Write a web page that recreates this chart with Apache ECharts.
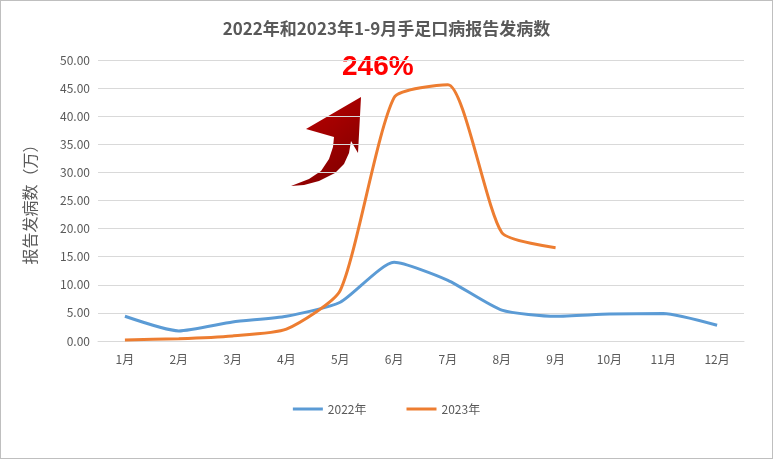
<!DOCTYPE html><html><head><meta charset="utf-8"><script src="https://cdn.jsdelivr.net/npm/echarts@6/dist/echarts.min.js"></script>
<style>html,body{margin:0;padding:0;background:#fff}#c{width:773px;height:459px;box-sizing:border-box;border:1px solid #bfbfbf}</style></head><body><div id="c"></div><script>
const categories=['1月','2月','3月','4月','5月','6月','7月','8月','9月','10月','11月','12月'];
const y2022=[4.4,1.8,3.4,4.4,6.9,14.0,10.8,5.5,4.4,4.8,4.9,2.8];
const y2023=[0.2,0.4,0.9,2.1,9.0,43.3,45.6,19.3,16.6];
const chart=echarts.init(document.getElementById('c'));
const f='"Microsoft YaHei","Noto Sans CJK SC",sans-serif';
chart.setOption({
 animation:false,
 title:{text:'2022年和2023年1-9月手足口病报告发病数',left:'center',top:14,textStyle:{fontSize:17,fontWeight:'bold',color:'#595959',fontFamily:f}},
 legend:{bottom:38,itemWidth:30,itemHeight:3,icon:'rect',itemGap:40,textStyle:{color:'#595959',fontSize:12,fontFamily:f},data:['2022年','2023年']},
 grid:{left:97,right:28,top:59,bottom:117},
 xAxis:{type:'category',data:categories,boundaryGap:true,axisLine:{lineStyle:{color:'#d9d9d9'}},axisTick:{show:false},axisLabel:{color:'#595959',fontSize:12,margin:12,fontFamily:f}},
 yAxis:{type:'value',min:0,max:50,interval:5,name:'报告发病数（万）',nameLocation:'middle',nameGap:60,nameTextStyle:{color:'#595959',fontSize:16,fontFamily:f},
  axisLabel:{formatter:v=>v.toFixed(2),color:'#595959',fontSize:12,fontFamily:f},splitLine:{lineStyle:{color:'#d9d9d9'}},axisLine:{show:false}},
 series:[
  {name:'2022年',type:'line',data:y2022,showSymbol:false,smooth:0.2,lineStyle:{color:'#5b9bd5',width:3},itemStyle:{color:'#5b9bd5'}},
  {name:'2023年',type:'line',data:y2023,showSymbol:false,smooth:0.2,lineStyle:{color:'#ed7d31',width:3},itemStyle:{color:'#ed7d31'}}
 ],
 graphic:[
  {type:'text',x:341,y:52,style:{text:'246%',fill:'#ff0000',font:'bold 28px Arial, "Liberation Sans"'}},
  {type:'polygon',shape:{points:[[290,185],[308,178],[320,170],[328,158],[332,146],[333,136],[305,128],[360,96],[357,152],[350,140],[348,152],[343,163],[334,172],[318,180],[303,184]]},
   style:{fill:new echarts.graphic.LinearGradient(0,0,1,1,[{offset:0,color:'#c00000'},{offset:1,color:'#7a0000'}])}}
 ]
});
</script></body></html>
